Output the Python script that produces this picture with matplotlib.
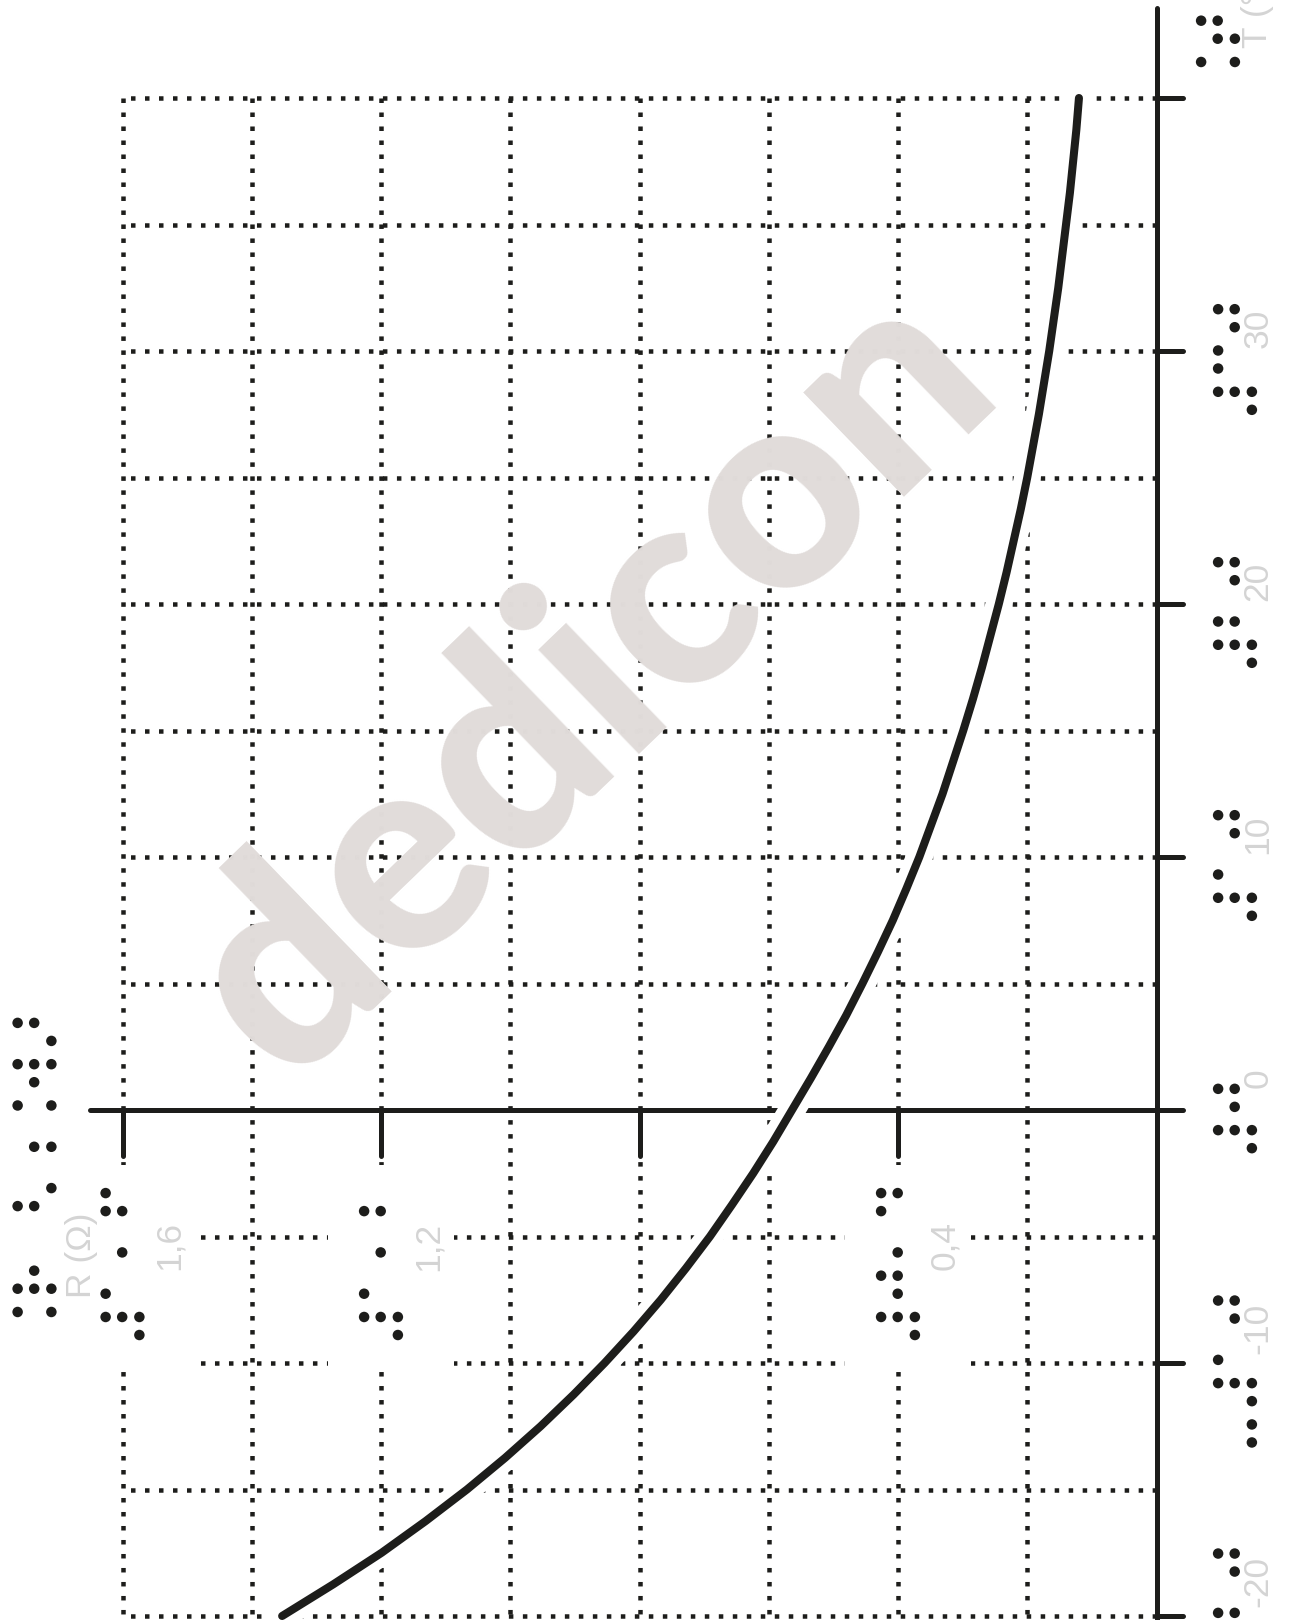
import numpy as np
import matplotlib
matplotlib.use('Agg')
import matplotlib.pyplot as plt
import matplotlib.patheffects as pe
import matplotlib.transforms as mtransforms
from matplotlib.path import Path
from matplotlib.textpath import TextPath
from matplotlib.font_manager import FontProperties
from matplotlib.patches import Rectangle

# data (NTC curve, R in ohm against T in degC)
temps = [-20, -18.75, -17.5, -16.25, -15, -13.75, -12.5, -11.25, -10, -8.75,
         -7.5, -6.25, -5, -3.75, -2.5, -1.25, 0, 1.25, 2.5, 3.75, 5, 6.25,
         7.5, 8.75, 10, 11.25, 12.5, 13.75, 15, 16.25, 17.5, 18.75, 20, 21.25,
         22.5, 23.75, 25, 26.25, 27.5, 28.75, 30, 31.25, 32.5, 33.75, 35,
         36.25, 37.5, 38.75, 40]
resistance = [1.353, 1.274, 1.199, 1.131, 1.067, 1.008, 0.953, 0.902, 0.854,
              0.809, 0.767, 0.728, 0.691, 0.657, 0.624, 0.593, 0.564, 0.535,
              0.507, 0.480, 0.455, 0.431, 0.408, 0.387, 0.367, 0.349, 0.331,
              0.315, 0.299, 0.284, 0.270, 0.257, 0.244, 0.232, 0.221, 0.210,
              0.200, 0.191, 0.182, 0.174, 0.166, 0.159, 0.152, 0.146, 0.140,
              0.134, 0.129, 0.124, 0.120]

t_ticks = [-20, -10, 0, 10, 20, 30, 40]
t_labels = ['-20', '-10', '0', '10', '20', '30', '']
t_braille = ['⠤⠼⠃⠚', '⠤⠼⠁⠚', '⠼⠚', '⠼⠁⠚', '⠼⠃⠚', '⠼⠉⠚', '']
r_ticks = [1.6, 1.2, 0.8, 0.4]
r_labels = ['1,6', '1,2', '', '0,4']
r_braille = ['⠼⠁⠂⠋', '⠼⠁⠂⠃', '', '⠼⠚⠂⠙']
r_grid = [0.2, 0.4, 0.6, 0.8, 1.0, 1.2, 1.4, 1.6]
t_grid = [-20, -15, -10, -5, 0, 5, 10, 15, 20, 25, 30, 35, 40]

ink = '#1d1d1b'
gray = '#d4d4d4'

W, H = 1291, 1620
fig = plt.figure(figsize=(W / 100, H / 100), dpi=100)
ax = fig.add_axes([0, 0, 1, 1])
ax.set_axis_off()

# pixel layout of the axes: R=0 at x=1156.5, T=0 at y=1110
X0, PX_OHM = 1156.5, 646.25
Y0, PX_DEG = 1110, 25.3
ax.set_xlim(X0 / PX_OHM, -(W - X0) / PX_OHM)
ax.set_ylim(-(H - Y0) / PX_DEG, Y0 / PX_DEG)


def px_r(x):
    return (X0 - x) / PX_OHM


def px_t(y):
    return (Y0 - y) / PX_DEG


def shifted(dx, dy):
    return mtransforms.offset_copy(ax.transData, fig, x=dx, y=dy, units='dots')


# dotted grid
grid_kw = dict(color=ink, lw=3.24, dash_capstyle='butt', zorder=1)
for r in r_grid:
    ax.plot([r, r], [40, -20], linestyle=(0, (1, 2.11)), **grid_kw)
for t in t_grid:
    ax.plot([1.6, 0], [t, t], linestyle=(1.44, (1, 2.11)), **grid_kw)

# white backgrounds behind the R labels
for r, lab in zip(r_ticks, r_labels):
    if lab:
        xl = px_r(X0 - r * PX_OHM - 53)
        xr = px_r(X0 - r * PX_OHM + 73)
        ax.add_patch(Rectangle((xr, px_t(1370)), xl - xr, px_t(1165) - px_t(1370),
                               facecolor='white', edgecolor='none', zorder=2))

# watermark
wm_font = FontProperties(family='Lato', weight='black')
wm_ext = TextPath((0, 0), 'dedicon', size=1, prop=wm_font).get_extents()
wm_size = 1.11 * 1070 * 0.72 / (wm_ext.width + wm_ext.height)
ax.text(px_r(589), px_t(680), 'dedicon', rotation=44, rotation_mode='anchor',
        ha='center', va='center', fontsize=wm_size, fontproperties=wm_font,
        color='#e1dcda', zorder=3)

# axes with ticks
axis_kw = dict(color=ink, lw=3.6, solid_capstyle='round', zorder=4)
ax.plot([0, 0], [px_t(7.5), -25], **axis_kw)
ax.plot([px_r(90), 0], [0, 0], **axis_kw)
for t in t_ticks:
    ax.plot([0, px_r(1182.5)], [t, t], **axis_kw)
for r in r_ticks:
    ax.plot([r, r], [0, px_t(1155.5)], **axis_kw)

# curve with white halo
ax.plot(resistance, temps, color=ink, lw=5.8, solid_capstyle='round',
        solid_joinstyle='round', zorder=5,
        path_effects=[pe.Stroke(linewidth=19, foreground='white', capstyle='round'),
                      pe.Normal()])

# gray print labels
lab_kw = dict(color=gray, fontsize=25.5, family='Liberation Sans', rotation=90, zorder=6)
for t, lab in zip(t_ticks, t_labels):
    if lab:
        ax.text(px_r(1258), t, lab, ha='center', va='top',
                transform=shifted(0, 42 if t >= 0 else 60), **lab_kw)
for r, lab in zip(r_ticks, r_labels):
    if lab:
        ax.text(r, px_t(1246), lab, ha='center', va='center',
                transform=shifted(47, 0), **lab_kw)
ax.text(px_r(81), px_t(1255), 'R (Ω)', ha='center', va='center', **lab_kw)
ax.text(px_r(1257), px_t(48), 'T (°C)', ha='center', va='bottom', **lab_kw)


# braille, cells rotated 90 deg and reading upwards
class RoundDots(pe.AbstractPathEffect):
    """Paint every contour of a braille glyph as a round dot."""

    def __init__(self, diameter):
        super().__init__()
        self.diameter = diameter

    def draw_path(self, renderer, gc, tpath, affine, rgbFace=None):
        verts = affine.transform(tpath.vertices)
        codes = tpath.codes
        starts = list(np.nonzero(codes == Path.MOVETO)[0]) + [len(codes)]
        rad = renderer.points_to_pixels(self.diameter) / 2
        for a, b in zip(starts[:-1], starts[1:]):
            pts = verts[a:b][codes[a:b] != Path.CLOSEPOLY]
            if len(pts) == 0:
                continue
            cx = (pts[:, 0].min() + pts[:, 0].max()) / 2
            cy = (pts[:, 1].min() + pts[:, 1].max()) / 2
            renderer.draw_path(gc, Path.unit_circle(),
                               mtransforms.Affine2D().scale(rad).translate(cx, cy), rgbFace)


bfont = FontProperties(family='DejaVu Sans')


def ink_box(ch):
    e = TextPath((0, 0), ch, size=1, prop=bfont).get_extents()
    return (e.x0 + e.x1) / 2, (e.y0 + e.y1) / 2


c1 = ink_box('⠁')
c2 = ink_box('⠂')
c4 = ink_box('⠈')
step = ((c1[1] - c2[1]) + (c4[0] - c1[0])) / 2
DOT_STEP = 17.3
PITCH = 41.3
b_size = DOT_STEP * 0.72 / step
cell = ink_box('⠿')
cell_cx = cell[0] * b_size / 0.72
cell_cy = cell[1] * b_size / 0.72
dot_fx = [RoundDots(10.5 * 0.72)]


def braille(x, y, cells, dx=0, dy=0):
    # (x, y) + (dx, dy) dots is the centre of the first cell
    for k, ch in enumerate(cells):
        if ch == ' ':
            continue
        ax.text(x, y, ch, rotation=90, rotation_mode='anchor', ha='left', va='baseline',
                fontsize=b_size, fontproperties=bfont, color=ink, zorder=6,
                path_effects=dot_fx,
                transform=shifted(dx + cell_cy, dy + k * PITCH - cell_cx))


for t, cells in zip(t_ticks, t_braille):
    if cells:
        braille(px_r(1235), t, cells, dy=-(8.5 + (len(cells) - 1) / 2 * PITCH))
for r, cells in zip(r_ticks, r_braille):
    if cells:
        braille(r, px_t(1326), cells)
braille(px_r(34.5), px_t(1321), '⠨⠗ ⠣⠰⠨⠺⠜')
braille(px_r(1218), px_t(71), '⠨⠞')

fig.savefig('out.png', dpi=100)
